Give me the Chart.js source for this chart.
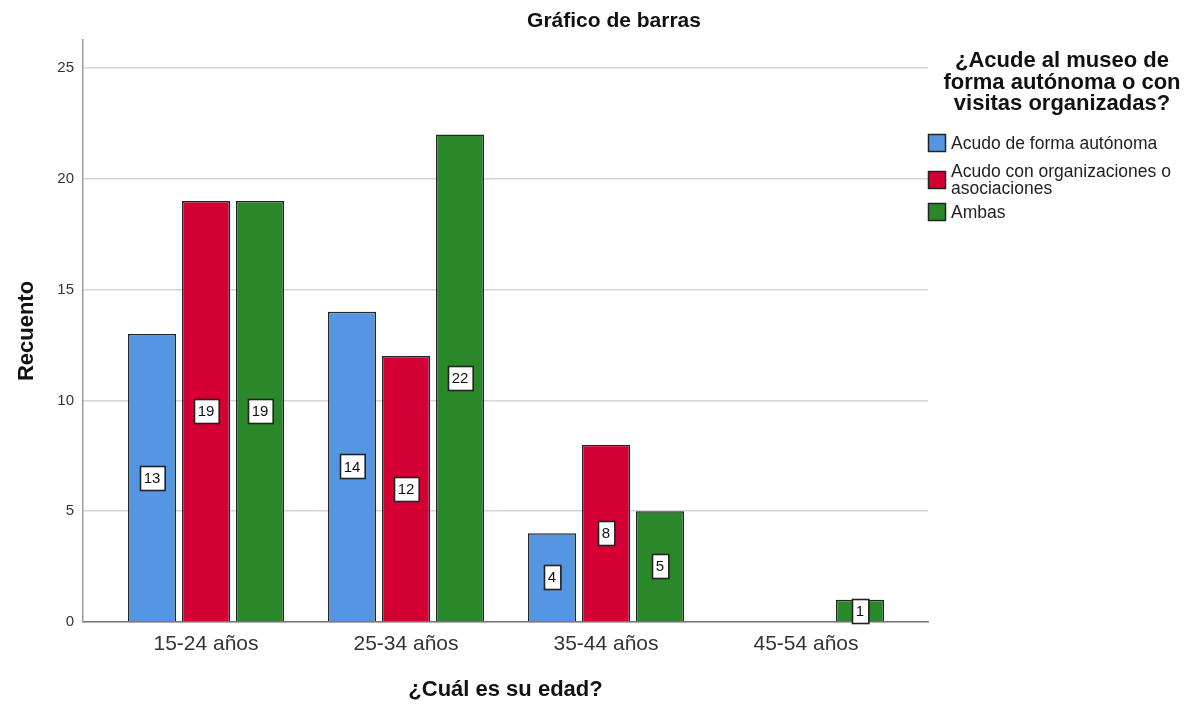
<!DOCTYPE html>
<html>
<head>
<meta charset="utf-8">
<script src="https://cdn.jsdelivr.net/npm/chart.js@4.4.1/dist/chart.umd.min.js"></script>
<style>
html,body{margin:0;padding:0;background:#fff;}
#wrap{width:1195px;height:706px;position:relative;}
</style>
</head>
<body>
<div id="wrap"><canvas id="c"></canvas></div>
<script>
const chartTitle = "Gráfico de barras";
const categories = ["15-24 años", "25-34 años", "35-44 años", "45-54 años"];
const seriesNames = ["Acudo de forma autónoma", "Acudo con organizaciones o asociaciones", "Ambas"];
const legendNames = [["Acudo de forma autónoma"], ["Acudo con organizaciones o", "asociaciones"], ["Ambas"]];
const legendTitle = ["¿Acude al museo de", "forma autónoma o con", "visitas organizadas?"];
const autonoma = [13, 14, 4, 0];
const organizaciones = [19, 12, 8, 0];
const ambas = [19, 22, 5, 1];
const yTicks = [0, 5, 10, 15, 20, 25];
const yTitle = "Recuento";
const xTitle = "¿Cuál es su edad?";
const colors = ["#5596e3", "#d40033", "#2a882a"];

const FONT = "'Liberation Sans', Arial, sans-serif";

function toPoints(arr){ return arr.map((v,i)=>({x:i, y:v})); }

const labelPlugin = {
  id: 'barLabels',
  afterDatasetsDraw(chart){
    const ctx = chart.ctx;
    ctx.save();
    ctx.font = "15px " + FONT;
    ctx.textAlign = "center";
    ctx.textBaseline = "middle";
    chart.data.datasets.forEach((ds, di)=>{
      const meta = chart.getDatasetMeta(di);
      meta.data.forEach((bar, i)=>{
        const v = ds.data[i].y;
        if (!v) return;
        const txt = String(v);
        const w = ctx.measureText(txt).width + 8;
        const h = 24;
        const cy = (bar.y + bar.base)/2;
        const x0 = Math.round(bar.x - w/2) + 0.5, y0 = Math.round(cy - h/2) + 0.5;
        ctx.fillStyle = "#fff";
        ctx.fillRect(x0, y0, w, h);
        ctx.strokeStyle = "#222";
        ctx.lineWidth = 1.6;
        ctx.strokeRect(x0, y0, w, h);
        ctx.fillStyle = "#111";
        ctx.fillText(txt, bar.x, cy + 1);
      });
    });
    ctx.restore();
  }
};

const deco = {
  id: 'deco',
  afterDraw(chart){
    const ctx = chart.ctx;
    ctx.save();
    ctx.fillStyle = "#111";
    ctx.textAlign = "center";
    ctx.textBaseline = "middle";
    ctx.font = "bold 21px " + FONT;
    ctx.fillText(chartTitle, 614, 21);
    ctx.font = "bold 22px " + FONT;
    legendTitle.forEach((t, i)=> ctx.fillText(t, 1062, 61 + i*21.5));
    ctx.textAlign = "left";
    ctx.font = "17.5px " + FONT;
    const itemY = [143, 180, 212];
    legendNames.forEach((lines, i)=>{
      const cy = itemY[i];
      ctx.fillStyle = colors[i];
      ctx.fillRect(928.5, cy - 8.5, 17, 17);
      ctx.strokeStyle = "#222";
      ctx.lineWidth = 1.5;
      ctx.strokeRect(928.5, cy - 8.5, 17, 17);
      ctx.fillStyle = "#222";
      if (lines.length === 1) {
        ctx.fillText(lines[0], 951, cy + 1);
      } else {
        ctx.fillText(lines[0], 951, cy - 8);
        ctx.fillText(lines[1], 951, cy + 9);
      }
    });
    ctx.restore();
  }
};

new Chart(document.getElementById('c'), {
  type: 'bar',
  data: {
    datasets: [autonoma, organizaciones, ambas].map((arr, i)=>({
      label: seriesNames[i],
      data: toPoints(arr),
      backgroundColor: colors[i],
      borderColor: "#252525",
      borderWidth: (c)=> (c.raw && c.raw.y) ? 1.5 : 0,
      categoryPercentage: 0.81,
      barPercentage: 0.89
    }))
  },
  options: {
    responsive: true,
    maintainAspectRatio: false,
    animation: false,
    layout: { padding: { top: 40, right: 267, left: 0, bottom: 0 } },
    plugins: {
      legend: { display: false },
      tooltip: { enabled: false },
      title: { display: false, text: chartTitle }
    },
    scales: {
      x: {
        type: 'linear',
        min: -0.615,
        max: 3.61,
        offset: false,
        afterBuildTicks: (s)=>{ s.ticks = categories.map((c,i)=>({value:i})); },
        afterFit: (s)=>{ s.height = 84; },
        ticks: {
          callback: (v)=> categories[v],
          color: "#333",
          font: { size: 21, family: FONT },
          padding: 10,
          maxRotation: 0,
          autoSkip: false
        },
        grid: { display: false, drawTicks: false },
        border: { color: "#777", width: 1.5 },
        title: {
          display: true,
          text: xTitle,
          color: "#111",
          font: { size: 22, weight: 'bold', family: FONT },
          padding: { top: 0, bottom: 3 }
        }
      },
      y: {
        min: 0,
        max: 26.26,
        afterBuildTicks: (s)=>{ s.ticks = yTicks.map(v=>({value:v})); },
        afterFit: (s)=>{ s.width = 83; },
        ticks: {
          color: "#333",
          font: { size: 15, family: FONT },
          padding: 9
        },
        grid: { color: "#d4d4d4", lineWidth: 1.5, drawTicks: false },
        border: { color: "#999", width: 1.5 },
        title: {
          display: true,
          text: yTitle,
          color: "#111",
          font: { size: 22, weight: 'bold', family: FONT },
          padding: { top: 14, bottom: 0 }
        }
      }
    }
  },
  plugins: [labelPlugin, deco]
});
</script>
</body>
</html>
